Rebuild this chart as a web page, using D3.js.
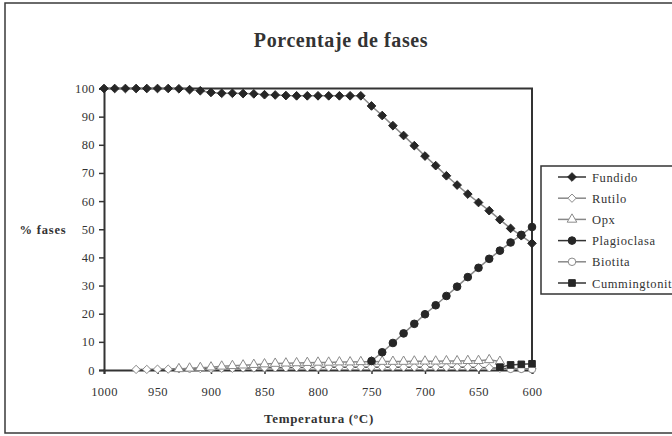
<!DOCTYPE html>
<html>
<head>
<meta charset="utf-8">
<script src="https://cdn.jsdelivr.net/npm/d3@7"></script>
<style>
  body { margin: 0; background: #fff; }
  svg { display: block; }
  text { font-family: "Liberation Serif", "Times New Roman", serif; fill: #333; }
</style>
</head>
<body>
<svg id="chart" width="672" height="436"></svg>
<script>
// temperatures (ºC), one point every 10 degrees
var temps = [1000, 990, 980, 970, 960, 950, 940, 930, 920, 910, 900, 890, 880, 870, 860, 850, 840, 830, 820, 810,
             800, 790, 780, 770, 760, 750, 740, 730, 720, 710, 700, 690, 680, 670, 660, 650, 640, 630, 620, 610, 600];

var fundido = [100, 100, 100, 100, 100, 100, 100, 99.9, 99.6, 99.2, 98.6, 98.3, 98.3, 98.2, 98.1, 97.8, 97.7, 97.5, 97.4, 97.4,
               97.4, 97.4, 97.4, 97.4, 97.4, 93.8, 90.4, 86.8, 83.3, 79.7, 76.0, 72.6, 69.0, 65.7, 62.5, 59.5, 56.6, 53.4, 50.3, 47.7, 45.0];

var rutilo = [null, null, null, 0.2, 0.2, 0.3, 0.3, 0.4, 0.4, 0.5, 0.5, 0.6, 0.6, 0.7, 0.7, 0.8, 0.8, 0.8, 0.9, 0.9,
              0.9, 1.0, 1.0, 1.0, 1.0, 1.0, 1.0, 1.0, 1.0, 1.0, 1.0, 1.0, 1.0, 1.0, 1.0, 0.9, 0.8, 0.6, 0.5, 0.4, 0.4];

var opx = [null, null, null, null, null, null, null, 0.4, 0.6, 0.8, 1.0, 1.3, 1.5, 1.7, 1.9, 2.1, 2.3, 2.4, 2.5, 2.6,
           2.7, 2.7, 2.8, 2.8, 2.9, 2.9, 3.0, 3.0, 3.0, 3.1, 3.1, 3.1, 3.2, 3.2, 3.3, 3.3, 3.6, 3.0, null, null, null];

var plagioclasa = [null, null, null, null, null, null, null, null, null, null, null, null, null, null, null, null, null, null, null, null,
                   null, null, null, null, null, 3.2, 6.3, 9.6, 13.0, 16.4, 19.8, 23.0, 26.3, 29.6, 33.0, 36.3, 39.5, 42.4, 45.3, 48.0, 50.8];

var biotita = [null, null, null, null, null, null, null, null, null, null, null, null, null, null, null, null, null, null, null, null,
               null, null, null, null, null, null, null, null, null, null, null, null, null, null, null, null, null, null, 0.4, 0.4, 0.3];

var cummingtonita = [null, null, null, null, null, null, null, null, null, null, null, null, null, null, null, null, null, null, null, null,
                     null, null, null, null, null, null, null, null, null, null, null, null, null, null, null, null, null, 1.0, 1.8, 2.0, 2.2];

var yTicks = [0, 10, 20, 30, 40, 50, 60, 70, 80, 90, 100];
var xTicks = [1000, 950, 900, 850, 800, 750, 700, 650, 600];

var series = [
    {name: "Fundido", values: fundido, symbol: d3.symbolDiamond2, size: 48, fill: "#262626", stroke: "#262626", line: "#8a8a8a"},
    {name: "Rutilo", values: rutilo, symbol: d3.symbolDiamond2, size: 44, fill: "#fff", stroke: "#8a8a8a", line: "#555"},
    {name: "Opx", values: opx, symbol: d3.symbolTriangle, size: 40, fill: "#fff", stroke: "#8a8a8a", line: "#888"},
    {name: "Plagioclasa", values: plagioclasa, symbol: d3.symbolCircle, size: 46, fill: "#262626", stroke: "#262626", line: "#8a8a8a"},
    {name: "Biotita", values: biotita, symbol: d3.symbolCircle, size: 44, fill: "#fff", stroke: "#8a8a8a", line: "#888"},
    {name: "Cummingtonita", values: cummingtonita, symbol: d3.symbolSquare, size: 44, fill: "#262626", stroke: "#262626", line: "#444"}
];

var svg = d3.select("#chart");

var plot = {left: 104, right: 532, top: 88.5, bottom: 370};

var x = d3.scaleLinear().domain([1000, 600]).range([plot.left, plot.right]);
var y = d3.scaleLinear().domain([0, 100]).range([plot.bottom, plot.top]);

// chart area frame
svg.append("rect")
    .attr("x", 5).attr("y", 3)
    .attr("width", 720).attr("height", 430)
    .style("fill", "none").style("stroke", "#3a3a3a").style("stroke-width", 1.5);

// title
svg.append("text")
    .attr("x", 341).attr("y", 47)
    .attr("text-anchor", "middle")
    .style("font-size", "20px").style("font-weight", "bold")
    .style("letter-spacing", "0.6px")
    .text("Porcentaje de fases");

// plot box (top and right edges)
svg.append("path")
    .attr("d", "M" + plot.left + "," + plot.top + "H" + plot.right + "V" + plot.bottom)
    .style("fill", "none").style("stroke", "#333").style("stroke-width", 2);

// axes
var yAxis = svg.append("g")
    .attr("transform", "translate(" + plot.left + ",0)")
    .call(d3.axisLeft(y).tickValues(yTicks).tickSize(5).tickPadding(4));

var xAxis = svg.append("g")
    .attr("transform", "translate(0," + plot.bottom + ")")
    .call(d3.axisBottom(x).tickValues(xTicks).tickFormat(d3.format("d")).tickSize(4).tickPadding(13));

[yAxis, xAxis].forEach(function (g) {
    g.select(".domain").style("stroke", "#333").style("stroke-width", 2);
    g.selectAll(".tick line").style("stroke", "#333").style("stroke-width", 1.5);
    g.selectAll(".tick text")
        .style("font-family", "'Liberation Serif', serif")
        .style("font-size", "12.5px")
        .style("letter-spacing", "0.4px")
        .style("fill", "#333");
});

// axis titles
svg.append("text")
    .attr("x", 43).attr("y", 234)
    .attr("text-anchor", "middle")
    .style("font-size", "12.5px").style("font-weight", "bold")
    .style("letter-spacing", "0.8px")
    .text("% fases");

svg.append("text")
    .attr("x", 319).attr("y", 423)
    .attr("text-anchor", "middle")
    .style("font-size", "13px").style("font-weight", "bold")
    .style("letter-spacing", "0.7px")
    .text("Temperatura (ºC)");

// series
var line = d3.line()
    .defined(function (d) { return d.v !== null; })
    .x(function (d) { return x(d.t); })
    .y(function (d) { return y(d.v); });

series.forEach(function (s) {
    var pts = temps.map(function (t, i) { return {t: t, v: s.values[i]}; });

    svg.append("path")
        .datum(pts)
        .attr("d", line)
        .style("fill", "none")
        .style("stroke", s.line)
        .style("stroke-width", 1.5);

    svg.selectAll(".m-" + s.name).data(pts.filter(function (d) { return d.v !== null; }))
        .enter().append("path")
        .attr("class", "m-" + s.name)
        .attr("transform", function (d) { return "translate(" + x(d.t) + "," + y(d.v) + ")"; })
        .attr("d", d3.symbol().type(s.symbol).size(s.size))
        .style("fill", s.fill)
        .style("stroke", s.stroke)
        .style("stroke-width", 1);
});

// legend
var legend = svg.append("g").attr("transform", "translate(541,166)");

legend.append("rect")
    .attr("x", 0).attr("y", 0)
    .attr("width", 160).attr("height", 128)
    .style("fill", "#fff").style("stroke", "#333").style("stroke-width", 1.5);

var item = legend.selectAll(".item").data(series).enter().append("g")
    .attr("class", "item")
    .attr("transform", function (d, i) { return "translate(0," + (11 + i * 21.2) + ")"; });

item.append("line")
    .attr("x1", 17).attr("x2", 45)
    .style("stroke", function (d) { return d.fill === "#fff" ? "#888" : "#333"; })
    .style("stroke-width", 1.5);

item.append("path")
    .attr("transform", "translate(31,0)")
    .attr("d", function (d) { return d3.symbol().type(d.symbol).size(d.size)(); })
    .style("fill", function (d) { return d.fill; })
    .style("stroke", function (d) { return d.stroke; });

item.append("text")
    .attr("x", 51).attr("y", 4.5)
    .style("font-size", "12.5px")
    .style("letter-spacing", "0.6px")
    .text(function (d) { return d.name; });
</script>
</body>
</html>
